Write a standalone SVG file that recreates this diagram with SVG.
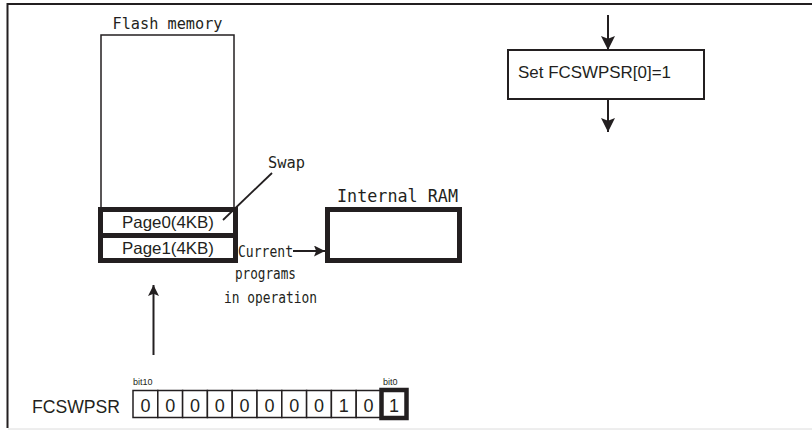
<svg xmlns="http://www.w3.org/2000/svg" width="812" height="430" viewBox="0 0 812 430">
<style>
.ln{stroke:#231f20;fill:none}
.thin{stroke:#231f20;stroke-width:1.5;fill:#fff}
.thick{stroke:#231f20;stroke-width:5;fill:#fff}
.mono{font-family:"DejaVu Sans Mono","Liberation Mono",monospace;fill:#231f20}
.sans{font-family:"Liberation Sans",Arial,sans-serif;fill:#231f20}
</style>
<defs>
<marker id="ah" viewBox="0 0 10 10" refX="10" refY="5" markerUnits="userSpaceOnUse" markerWidth="19" markerHeight="14" orient="auto">
<path d="M0,0 L10,5 L0,10 L2,5 Z" fill="#231f20"/>
</marker>
<marker id="ahs" viewBox="0 0 10 10" refX="10" refY="5" markerUnits="userSpaceOnUse" markerWidth="15" markerHeight="11" orient="auto">
<path d="M0,0 L10,5 L0,10 L2,5 Z" fill="#231f20"/>
</marker>
</defs>
<rect width="812" height="430" fill="#fff"/>
<g id="frame">
<line x1="7.5" y1="4" x2="812" y2="4" class="ln" stroke-width="2"/>
<line x1="7.5" y1="3" x2="7.5" y2="428" class="ln" stroke-width="2"/>
<line x1="8" y1="429" x2="812" y2="429" stroke="#dcdcdc" stroke-width="1"/>
</g>
<g id="flash-memory">
<text x="167.5" y="29" class="mono" font-size="16.5" text-anchor="middle" textLength="110" lengthAdjust="spacingAndGlyphs">Flash memory</text>
<rect x="101" y="35" width="133" height="180" class="thin"/>
</g>
<g id="page0">
<rect x="100.5" y="209.5" width="135" height="26" class="thick"/>
<text x="168" y="228" class="sans" font-size="16.5" text-anchor="middle" textLength="92" lengthAdjust="spacingAndGlyphs">Page0(4KB)</text>
</g>
<g id="page1">
<rect x="100.5" y="235.5" width="135" height="25" class="thick"/>
<text x="168" y="254" class="sans" font-size="16.5" text-anchor="middle" textLength="92" lengthAdjust="spacingAndGlyphs">Page1(4KB)</text>
</g>
<g id="internal-ram">
<text x="397.5" y="202" class="mono" font-size="17" text-anchor="middle" textLength="121" lengthAdjust="spacingAndGlyphs">Internal RAM</text>
<rect x="327.5" y="209.5" width="132" height="51" class="thick"/>
</g>
<g id="swap-label">
<text x="268" y="168" class="mono" font-size="16.5" textLength="37" lengthAdjust="spacingAndGlyphs">Swap</text>
</g>
<g id="current-label">
<text x="238" y="257" class="mono" font-size="15" textLength="55" lengthAdjust="spacingAndGlyphs">Current</text>
<text x="265.5" y="279" class="mono" font-size="15" text-anchor="middle" textLength="61" lengthAdjust="spacingAndGlyphs">programs</text>
<text x="270.5" y="302.5" class="mono" font-size="15" text-anchor="middle" textLength="93" lengthAdjust="spacingAndGlyphs">in operation</text>
</g>
<g id="set-fcswpsr">
<rect x="508" y="50" width="196" height="49" fill="#fff" stroke="#231f20" stroke-width="2"/>
<text x="518" y="77.5" class="sans" font-size="17" textLength="153" lengthAdjust="spacingAndGlyphs">Set FCSWPSR[0]=1</text>
</g>
<g id="fcswpsr-register">
<text x="32" y="413" class="sans" font-size="18" textLength="88" lengthAdjust="spacingAndGlyphs">FCSWPSR</text>
<text x="133" y="385" class="sans" font-size="9">bit10</text>
<text x="383" y="385" class="sans" font-size="9">bit0</text>
<g class="sans" font-size="18" text-anchor="middle">
<rect x="133" y="390.5" width="24.8" height="27" class="thin"/>
<rect x="157.8" y="390.5" width="24.8" height="27" class="thin"/>
<rect x="182.6" y="390.5" width="24.8" height="27" class="thin"/>
<rect x="207.4" y="390.5" width="24.8" height="27" class="thin"/>
<rect x="232.2" y="390.5" width="24.8" height="27" class="thin"/>
<rect x="257" y="390.5" width="24.8" height="27" class="thin"/>
<rect x="281.8" y="390.5" width="24.8" height="27" class="thin"/>
<rect x="306.6" y="390.5" width="24.8" height="27" class="thin"/>
<rect x="331.4" y="390.5" width="24.8" height="27" class="thin"/>
<rect x="356.2" y="390.5" width="24.8" height="27" class="thin"/>
<rect x="381.5" y="390" width="25" height="28" fill="#fff" stroke="#231f20" stroke-width="4.5"/>
<text x="145.4" y="412">0</text>
<text x="170.2" y="412">0</text>
<text x="195" y="412">0</text>
<text x="219.8" y="412">0</text>
<text x="244.6" y="412">0</text>
<text x="269.4" y="412">0</text>
<text x="294.2" y="412">0</text>
<text x="319" y="412">0</text>
<text x="343.8" y="412">1</text>
<text x="368.6" y="412">0</text>
<text x="394" y="412">1</text>
</g>
</g>
<g id="connectors" class="ln" stroke-width="2">
<line x1="223" y1="220" x2="272" y2="173" stroke-width="1.8"/>
<line x1="293" y1="251" x2="325" y2="251" marker-end="url(#ahs)"/>
<line x1="153.5" y1="355" x2="153.5" y2="285" marker-end="url(#ahs)"/>
<line x1="608" y1="15" x2="608" y2="50" marker-end="url(#ah)"/>
<line x1="608" y1="99" x2="608" y2="132" marker-end="url(#ah)"/>
</g>
</svg>
